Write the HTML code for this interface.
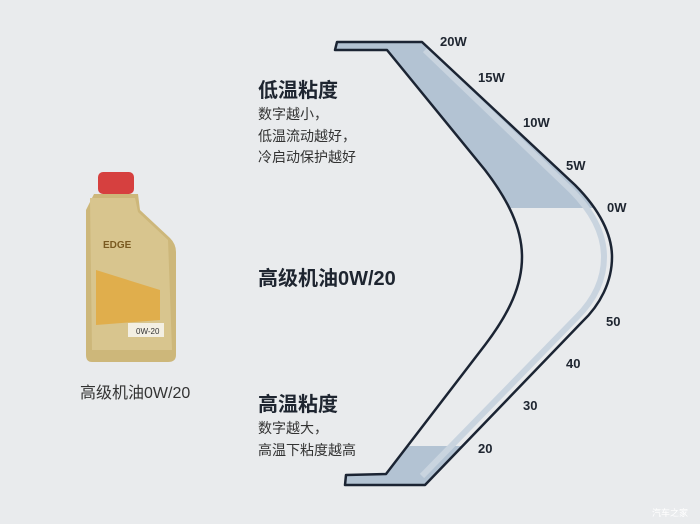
<!DOCTYPE html>
<html><head><meta charset="utf-8"><style>
body{margin:0;width:700px;height:524px;background:#e9ebed;overflow:hidden;position:relative;font-family:"Liberation Sans","Noto Sans CJK SC",sans-serif;color:#222}
.t{position:absolute;font-weight:bold;font-size:20px;color:#1e2530;white-space:nowrap}
.b{position:absolute;font-size:14px;line-height:21.5px;color:#333;white-space:nowrap}
</style></head><body>
<svg width="700" height="524" style="position:absolute;left:0;top:0">
<defs>
<clipPath id="top"><rect x="300" y="40" width="400" height="168"/></clipPath>
<clipPath id="bot"><rect x="300" y="446" width="400" height="40"/></clipPath>
<path id="shape" d="M337,42 L422,42 L575,185 C600,210 612,235 612,257 C612,282 600,305 582,322 L425,485 L345,485 L346,475 L386,474 L485,345 C510,312 522,285 522,257 C522,228 508,200 485,170 L387,50 L335,50 Z"/>
</defs>
<use href="#shape" fill="#e9ebed"/>
<use href="#shape" fill="#b3c3d3" clip-path="url(#top)"/>
<use href="#shape" fill="#b3c3d3" clip-path="url(#bot)"/>
<path d="M425,50 L571,190 C594,213 604,236 604,257 C604,280 594,300 577,317 L422,476" fill="none" stroke="#c9d4df" stroke-width="6"/>
<use href="#shape" fill="none" stroke="#1b2433" stroke-width="2.5" stroke-linejoin="round"/>
<g fill="#1e2530" font-weight="bold" font-size="13" font-family="Liberation Sans,sans-serif">
<text x="440" y="46">20W</text>
<text x="478" y="82">15W</text>
<text x="523" y="127">10W</text>
<text x="566" y="170">5W</text>
<text x="607" y="212">0W</text>
<text x="606" y="326">50</text>
<text x="566" y="368">40</text>
<text x="523" y="410">30</text>
<text x="478" y="453">20</text>
</g>
<rect x="98" y="172" width="36" height="22" rx="5" fill="#d6403f"/>
<path d="M94,194 L138,194 L140,210 L170,238 Q176,244 176,252 L176,355 Q176,362 168,362 L92,362 Q86,362 86,355 L86,210 Z" fill="#cdb77a"/>
<path d="M90,198 L135,198 L138,212 L168,240 L172,350 L92,350 Z" fill="#d8c58e"/>
<path d="M96,270 L160,290 L160,320 L96,325 Z" fill="#e2a83c" opacity="0.8"/>
<rect x="128" y="323" width="36" height="14" fill="#f3efe3"/>
<text x="136" y="334" font-size="8" fill="#333" font-family="Liberation Sans,sans-serif">0W-20</text>
<text x="103" y="248" font-size="10" font-weight="bold" fill="#7a5a20" font-family="Liberation Sans,sans-serif">EDGE</text>
</svg>
<div class="t" style="left:258px;top:74px">低温粘度</div>
<div class="b" style="left:258px;top:104px">数字越小，<br>低温流动越好，<br>冷启动保护越好</div>
<div class="t" style="left:258px;top:262px">高级机油0W/20</div>
<div class="t" style="left:258px;top:388px">高温粘度</div>
<div class="b" style="left:258px;top:418px">数字越大，<br>高温下粘度越高</div>
<div style="position:absolute;left:80px;top:379px;font-size:16px;color:#333;white-space:nowrap">高级机油0W/20</div>
<div style="position:absolute;left:652px;top:506px;font-size:9px;color:#fff">汽车之家</div>
</body></html>
